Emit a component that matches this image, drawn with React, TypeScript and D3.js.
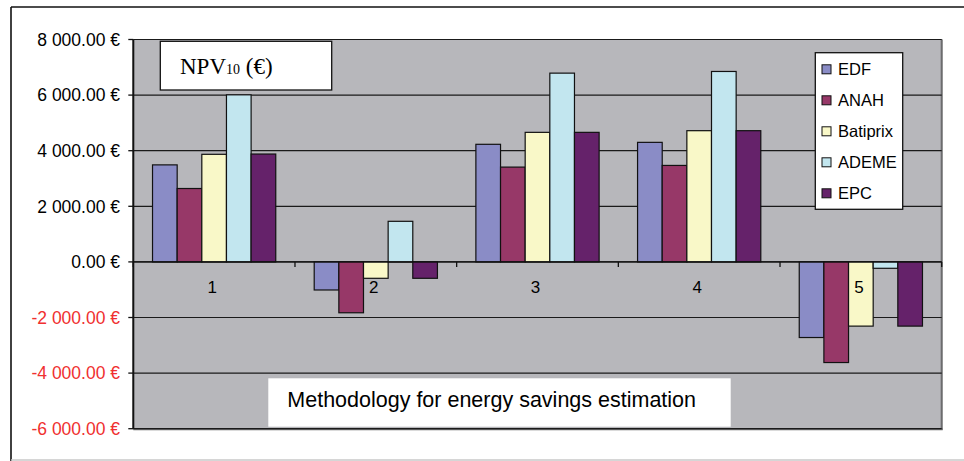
import * as d3 from 'd3';

// NPV over 10 years, per methodology (columns) and per source (series)
const categories = ['1', '2', '3', '4', '5'];
const seriesNames = ['EDF', 'ANAH', 'Batiprix', 'ADEME', 'EPC'];
const edfValues = [3490, -1010, 4230, 4300, -2720];
const anahValues = [2640, -1830, 3410, 3470, -3620];
const batiprixValues = [3870, -590, 4660, 4720, -2310];
const ademeValues = [6010, 1460, 6790, 6850, -230];
const epcValues = [3880, -590, 4660, 4720, -2310];
const yTicks = [8000, 6000, 4000, 2000, 0, -2000, -4000, -6000];
const seriesColors = ['#8a8cc6', '#973868', '#f9f8c8', '#c2e6ef', '#65226a'];

const seriesValues = [edfValues, anahValues, batiprixValues, ademeValues, epcValues];

const W = 964;
const H = 461;
const plot = { left: 133.3, right: 941.7, top: 39.5, bottom: 428.7 };

const locale = d3.formatLocale({
  decimal: '.',
  thousands: ' ',
  grouping: [3],
  currency: ['', ' €'],
  minus: '-',
});
const fmt = locale.format(',.2f');

const sans = "'Liberation Sans', Arial, sans-serif";
const serif = "'Liberation Serif', 'Times New Roman', serif";

export default function App() {
  const y = d3.scaleLinear().domain([-6000, 8000]).range([plot.bottom, plot.top]);
  const x0 = d3.scaleBand<string>().domain(categories).range([plot.left, plot.right]).padding(0);
  const x1 = d3
    .scaleBand<string>()
    .domain(seriesNames)
    .range([0, x0.bandwidth()])
    .paddingInner(0)
    .paddingOuter(0.78);
  const y0 = y(0);
  const color = d3.scaleOrdinal<string, string>().domain(seriesNames).range(seriesColors);

  const boundaries = categories.map((c) => x0(c) as number).concat([plot.right]);

  return (
    <svg
      width={W}
      height={H}
      style={{ position: 'absolute', left: 0, top: 0, background: '#fff' }}
    >
      {/* outer frame */}
      <line x1={11} y1={7} x2={W} y2={7} stroke="#111" strokeWidth={1.6} />
      <line x1={11} y1={7} x2={11} y2={H} stroke="#111" strokeWidth={1.6} />
      <line x1={11} y1={460} x2={W} y2={460} stroke="#c8c8c8" strokeWidth={1.5} />

      {/* plot area */}
      <rect
        x={plot.left}
        y={plot.top}
        width={plot.right - plot.left}
        height={plot.bottom - plot.top}
        fill="#b7b7bb"
        stroke="#9a9a9e"
        strokeWidth={1}
      />
      <line x1={plot.right} y1={plot.top} x2={plot.right} y2={plot.bottom + 1} stroke="#6c6c6e" strokeWidth={2} />
      <line x1={plot.left} y1={plot.bottom + 0.5} x2={plot.right + 1} y2={plot.bottom + 0.5} stroke="#6c6c6e" strokeWidth={2} />

      {/* gridlines */}
      {yTicks.map((t) => (
        <line
          key={'g' + t}
          x1={plot.left}
          x2={plot.right}
          y1={y(t)}
          y2={y(t)}
          stroke="#1a1a1a"
          strokeWidth={1.2}
        />
      ))}

      {/* axis title box */}
      <rect x={268.3} y={378.3} width={462.4} height={48.4} fill="#fff" />
      <text x={287.3} y={407} fontFamily={sans} fontSize={21.5} fill="#000">
        Methodology for energy savings estimation
      </text>

      {/* bars */}
      {categories.map((c, ci) => (
        <g key={c} transform={`translate(${x0(c)},0)`}>
          {seriesNames.map((s, si) => {
            const v = seriesValues[si][ci];
            const yy = y(Math.max(0, v));
            const hh = Math.abs(y(v) - y0);
            return (
              <rect
                key={s}
                x={x1(s)}
                y={yy}
                width={x1.bandwidth()}
                height={hh}
                fill={color(s)}
                stroke="#111"
                strokeWidth={1.2}
              />
            );
          })}
        </g>
      ))}

      {/* x axis at zero */}
      <line x1={plot.left} x2={plot.right} y1={y0} y2={y0} stroke="#111" strokeWidth={1.3} />
      {boundaries.map((b, i) => (
        <line key={'xt' + i} x1={b} x2={b} y1={y0} y2={y0 + 5} stroke="#111" strokeWidth={1.3} />
      ))}
      {categories.map((c) => (
        <text
          key={'xl' + c}
          x={(x0(c) as number) + x0.bandwidth() / 2 - 2}
          y={y0 + 31}
          textAnchor="middle"
          fontFamily={sans}
          fontSize={17}
          fill="#000"
        >
          {c}
        </text>
      ))}

      {/* y axis */}
      <line x1={plot.left} x2={plot.left} y1={plot.top} y2={plot.bottom} stroke="#111" strokeWidth={2} />
      {yTicks.map((t) => (
        <g key={'yt' + t}>
          <line x1={plot.left - 5} x2={plot.left} y1={y(t)} y2={y(t)} stroke="#111" strokeWidth={1.3} />
          <text
            x={120}
            y={y(t)}
            dy="0.36em"
            textAnchor="end"
            fontFamily={sans}
            fontSize={17.5}
            fill={t < 0 ? '#f03030' : '#000'}
          >
            {fmt(t) + ' €'}
          </text>
        </g>
      ))}

      {/* chart title box */}
      <rect x={160.3} y={41.3} width={171.4} height={48.7} fill="#fff" stroke="#111" strokeWidth={1.3} />
      <text x={180} y={74} fontFamily={serif} fontSize={23} fill="#000">
        NPV
        <tspan fontSize={14}>10</tspan>
        <tspan> (€)</tspan>
      </text>

      {/* legend */}
      <rect x={815.3} y={52.7} width={87.4} height={156.6} fill="#fff" stroke="#111" strokeWidth={1.3} />
      {seriesNames.map((s, i) => {
        const cy = 69.3 + i * 31;
        return (
          <g key={'lg' + s}>
            <rect x={822} y={cy - 4.5} width={9} height={9} fill={color(s)} stroke="#111" strokeWidth={1} />
            <text x={838} y={cy} dy="0.36em" fontFamily={sans} fontSize={16.5} fill="#000">
              {s}
            </text>
          </g>
        );
      })}
    </svg>
  );
}
